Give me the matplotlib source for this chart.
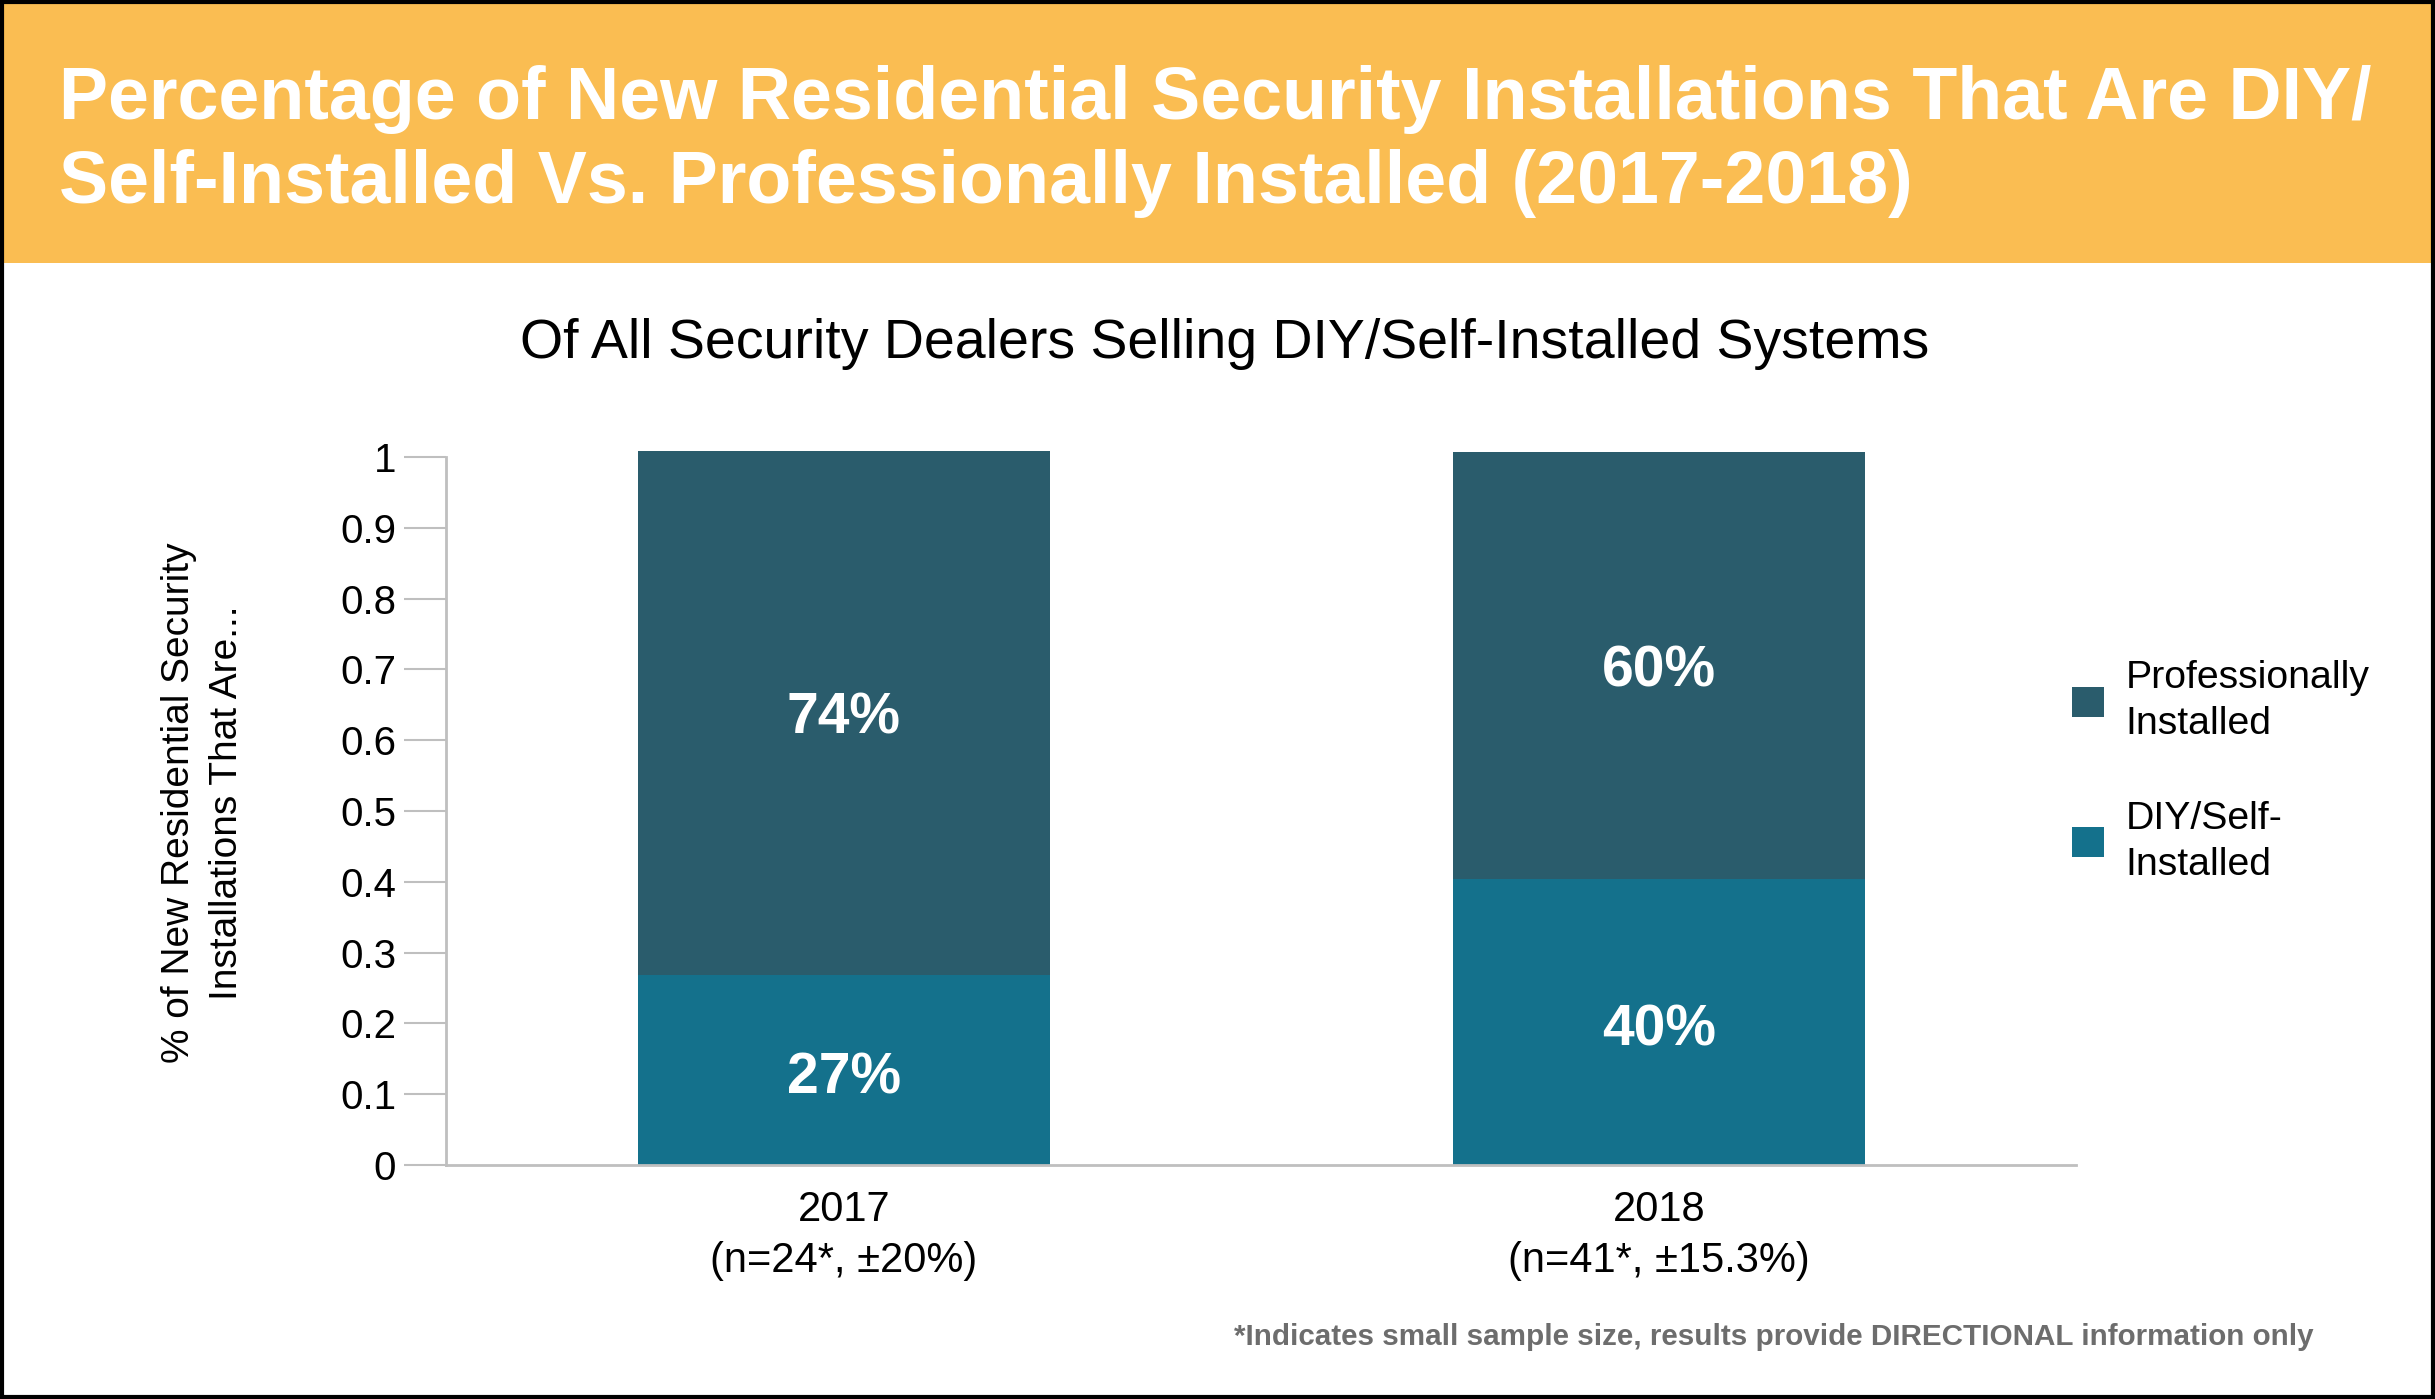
import matplotlib
matplotlib.use("Agg")
import matplotlib.pyplot as plt
from matplotlib.patches import Rectangle

plt.rcParams['font.family'] = ['Liberation Sans', 'DejaVu Sans']

W, H = 2435, 1399

# data
years = ["2017\n(n=24*, \u00b120%)", "2018\n(n=41*, \u00b115.3%)"]
diy = [0.268, 0.404]
pro = [0.740, 0.603]
yticks = [0, 0.1, 0.2, 0.3, 0.4, 0.5, 0.6, 0.7, 0.8, 0.9, 1]
ytick_labels = ["0", "0.1", "0.2", "0.3", "0.4", "0.5", "0.6", "0.7", "0.8", "0.9", "1"]

ORANGE = "#fabd52"
PRO_C = "#2a5c6c"
DIY_C = "#14718c"
GRID_C = "#bfbfbf"


def fx(px):
    return px / W


def fy(py):
    return 1 - py / H


fig = plt.figure(figsize=(W / 100, H / 100), dpi=100)
fig.patch.set_facecolor("white")

# header band and border
fig.patches.append(Rectangle((0, fy(263)), 1, 1 - fy(263), transform=fig.transFigure,
                             facecolor=ORANGE, edgecolor="none", zorder=0))
fig.patches.append(Rectangle((fx(2), fy(H - 2)), fx(W - 4), 1 - 2 * 2 / H,
                             transform=fig.transFigure, facecolor="none",
                             edgecolor="black", linewidth=3, zorder=5))

fig.text(fx(59), fy(99), "Percentage of New Residential Security Installations That Are DIY/",
         color="white", fontsize=53, fontweight="bold", va="center", ha="left")
fig.text(fx(59), fy(183), "Self-Installed Vs. Professionally Installed (2017-2018)",
         color="white", fontsize=53, fontweight="bold", va="center", ha="left")

fig.text(fx(1225), fy(344), "Of All Security Dealers Selling DIY/Self-Installed Systems",
         color="black", fontsize=40, va="center", ha="center")

ax = fig.add_axes([fx(446), fy(1165), fx(2076 - 446), (1165 - 457) / H])
x = [0, 1]
bw = 0.505
b1 = ax.bar(x, diy, width=bw, color=DIY_C, label="DIY/Self-\nInstalled", clip_on=False)
b2 = ax.bar(x, pro, width=bw, bottom=diy, color=PRO_C, label="Professionally\nInstalled", clip_on=False)

for i in range(2):
    ax.text(x[i], diy[i] / 2 - 0.012, "{:.0f}%".format(diy[i] * 100), color="white",
            fontsize=41, fontweight="bold", ha="center", va="center")
    ax.text(x[i], diy[i] + pro[i] / 2 - 0.008, "{:.0f}%".format(pro[i] * 100), color="white",
            fontsize=41, fontweight="bold", ha="center", va="center")

ax.set_xlim(-0.488, 1.511)
ax.set_ylim(0, 1)
ax.set_yticks(yticks)
ax.set_yticklabels(ytick_labels)
ax.set_xticks(x)
ax.set_xticklabels(years, linespacing=1.35)
ax.tick_params(axis="y", length=30, width=1.5, color=GRID_C, labelsize=29, pad=6)
ax.tick_params(axis="x", length=0, labelsize=30, pad=18)
for s in ["top", "right"]:
    ax.spines[s].set_visible(False)
for s in ["left", "bottom"]:
    ax.spines[s].set_color(GRID_C)
    ax.spines[s].set_linewidth(2)

fig.text(fx(203), fy(803), "% of New Residential Security\nInstallations That Are...",
         rotation=90, fontsize=28, ha="center", va="center", linespacing=1.4)

handles = [b2, b1]
leg = fig.legend(handles, [h.get_label() for h in handles], loc="upper left",
                 bbox_to_anchor=(fx(2037), fy(625)), frameon=False, fontsize=28.3,
                 handlelength=0.8, handleheight=0.8, handletextpad=0.55, labelspacing=1.5)
for t in leg.get_texts():
    t.set_linespacing(1.35)

fig.text(fx(2314), fy(1337), "*Indicates small sample size, results provide DIRECTIONAL information only",
         color="#6d6d6d", fontsize=21.3, fontweight="bold", ha="right", va="center")

fig.savefig("out.png", dpi=100)
